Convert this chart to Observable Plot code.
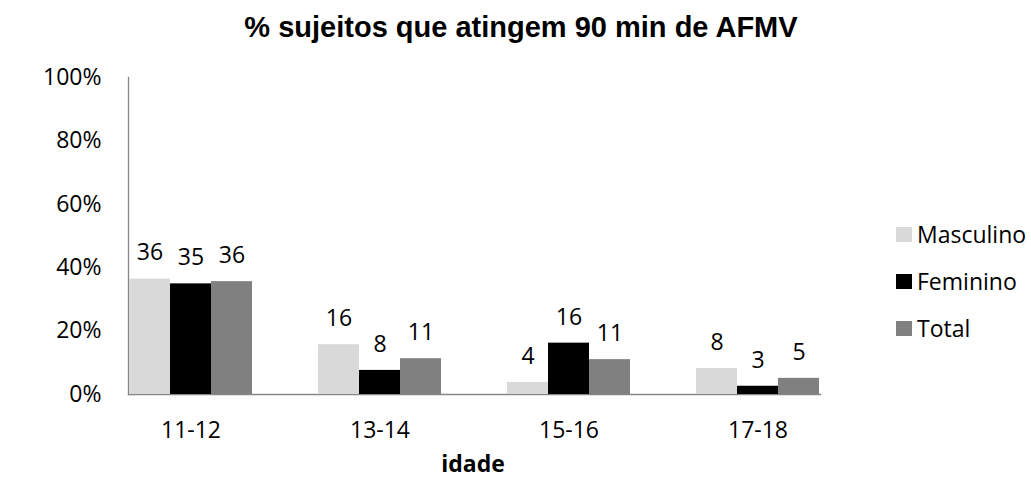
<!DOCTYPE html>
<html>
<head>
<meta charset="utf-8">
<script src="https://cdn.jsdelivr.net/npm/d3@7"></script>
<script src="https://cdn.jsdelivr.net/npm/@observablehq/plot@0.6"></script>
<style>
  body { margin: 0; background: #fff; }
  #chart { position: relative; width: 1031px; height: 479px; overflow: hidden; font-family: "Open Sans", sans-serif; }
  #title {
    position: absolute; left: 0; width: 1042px; top: 12.5px;
    text-align: center; font-family: "Liberation Sans", Arial, sans-serif;
    font-weight: bold; font-size: 29px; line-height: 29px; color: #000;
  }
  #xlabel {
    position: absolute; left: 0; width: 946px; top: 452px;
    text-align: center; font-weight: bold; font-size: 23px; line-height: 23px; color: #000;
  }
  #legend { position: absolute; left: 896px; top: 210.5px; }
  .row { display: flex; align-items: center; height: 47px; font-size: 23px; color: #000; }
  .sw { width: 16px; height: 15px; margin-right: 5px; }
  #plot { position: absolute; left: 0; top: 0; }
</style>
</head>
<body>
<div id="chart">
  <div id="plot"></div>
  <div id="title">% sujeitos que atingem 90 min de AFMV</div>
  <div id="xlabel">idade</div>
  <div id="legend"></div>
</div>
<script>
// Age groups and the share (%) of subjects reaching 90 min of MVPA
const ages = ["11-12", "13-14", "15-16", "17-18"];
const series = ["Masculino", "Feminino", "Total"];
const masculino = [36.4, 15.7, 3.8, 8.2];
const feminino = [34.9, 7.6, 16.2, 2.6];
const total = [35.6, 11.3, 11.0, 5.1];
const yTicks = [0, 20, 40, 60, 80, 100];
const colors = ["#d9d9d9", "#000000", "#808080"];

const bySeries = [masculino, feminino, total];
const rows = ages.flatMap((age, i) =>
  series.map((sex, j) => ({age, sex, value: bySeries[j][i]}))
);

const axisGray = "#868686";

const chart = Plot.plot({
  width: 1031,
  height: 479,
  marginLeft: 95,
  marginRight: 178,
  marginTop: 77,
  marginBottom: 85,
  style: {fontFamily: "Open Sans, sans-serif", fontSize: "23px", color: "#000", background: "transparent"},
  fx: {domain: ages, paddingInner: 0.337, paddingOuter: 0.168, label: null, axis: "bottom", tickSize: 0, tickPadding: 27},
  x: {domain: series, axis: null, padding: 0},
  y: {domain: [0, 100], ticks: yTicks, tickFormat: d => d + "%", tickSize: 0, tickPadding: 27, label: null},
  color: {domain: series, range: colors},
  marks: [
    Plot.frame({anchor: "left", stroke: axisGray, strokeWidth: 1.3, facet: "super"}),
    Plot.frame({anchor: "bottom", stroke: axisGray, strokeWidth: 1.3, facet: "super"}),
    Plot.barY(rows, {fx: "age", x: "sex", y: "value", fill: "sex"}),
    Plot.text(rows, {fx: "age", x: "sex", y: "value", text: d => String(Math.round(d.value)), dy: -26, fill: "#000"})
  ]
});
document.getElementById("plot").append(chart);

const legend = document.getElementById("legend");
series.forEach((s, i) => {
  const row = document.createElement("div");
  row.className = "row";
  const sw = document.createElement("span");
  sw.className = "sw";
  sw.style.background = colors[i];
  const label = document.createElement("span");
  label.textContent = s;
  row.append(sw, label);
  legend.append(row);
});
</script>
</body>
</html>
